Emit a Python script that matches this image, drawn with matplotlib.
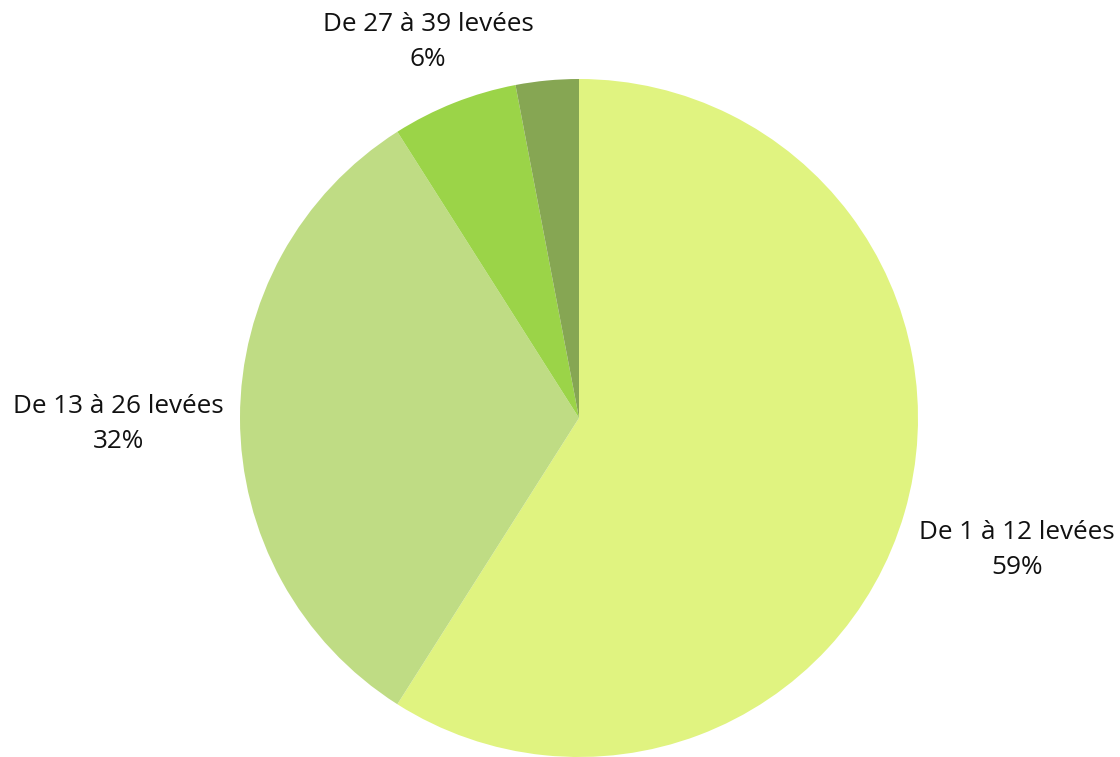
import matplotlib
matplotlib.use("Agg")
import matplotlib.pyplot as plt

plt.rcParams['font.family'] = ['Open Sans', 'DejaVu Sans']

categories = ["De 1 à 12 levées", "De 13 à 26 levées", "De 27 à 39 levées", "40 levées et plus"]
shares = [59, 32, 6, 3]
colors = ["#e0f380", "#bfdc84", "#9bd448", "#86a653"]
show_label = [True, True, True, False]
# label centres, in pixels from the top-left corner
label_pos = [(1017, 550), (118, 424), (428, 42), None]

W, H = 1120, 757
fig = plt.figure(figsize=(W / 100, H / 100), dpi=100)
ax = fig.add_axes([0, 0, 1, 1])

ax.pie(shares, colors=colors, startangle=90, counterclock=False,
       center=(579, H - 418), radius=339, frame=True,
       wedgeprops=dict(linewidth=0))
ax.set_xlim(0, W)
ax.set_ylim(0, H)
ax.axis("off")

for cat, val, show, pos in zip(categories, shares, show_label, label_pos):
    if not show:
        continue
    ax.text(pos[0], H - pos[1], f"{cat}\n{val}%", ha="center", va="center",
            fontsize=18.8, linespacing=1.5, color="#111111")

fig.savefig("out.png", dpi=100)
